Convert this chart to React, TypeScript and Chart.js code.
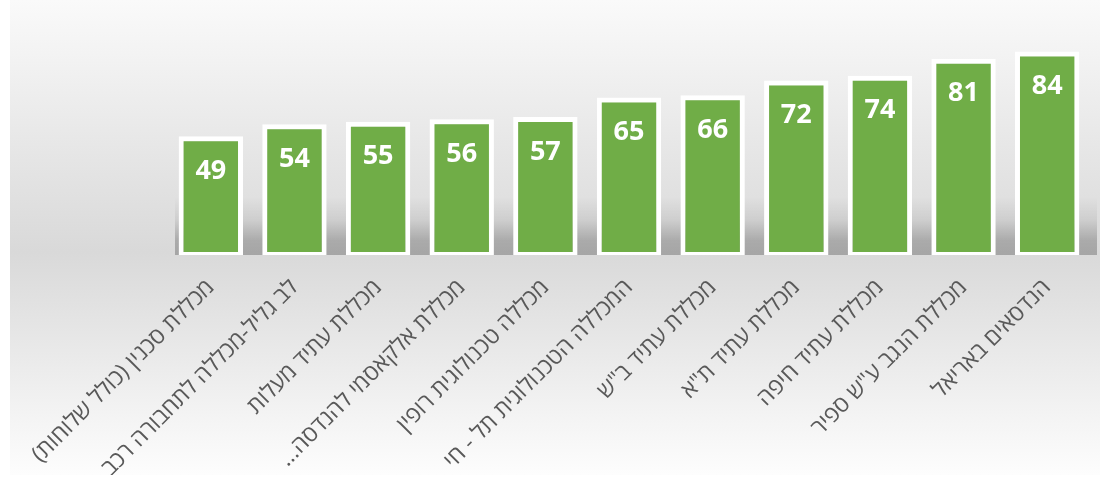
import React, { useEffect, useRef } from "react";
import { Chart, registerables } from "chart.js";

Chart.register(...registerables);

const categories: string[] = [
  "מכללת סכנין (כולל שלוחות)",
  "לב גליל-מכללה לתחבורה רכב",
  "מכללת עתיד מעלות",
  "מכללת אלקאסמי להנדסה…",
  "מכללה טכנולוגית רופין",
  "המכללה הטכנולוגית תל - חי",
  'מכללת עתיד ב"ש',
  'מכללת עתיד ת"א',
  "מכללת עתיד חיפה",
  'מכללת הנגב ע"ש ספיר',
  "הנדסאים באריאל",
];

const values: number[] = [49, 54, 55, 56, 57, 65, 66, 72, 74, 81, 84];

const FONT = "'Open Sans', 'Liberation Sans', 'DejaVu Sans', sans-serif";

const backgroundPlugin = {
  id: "bgPlugin",
  beforeDraw(chart: any) {
    const { ctx, width, height } = chart;
    ctx.save();
    const g = ctx.createLinearGradient(0, 0, 0, height);
    g.addColorStop(0, "#fafafa");
    g.addColorStop(0.53, "#d9d9d9");
    g.addColorStop(1, "#fdfdfd");
    ctx.fillStyle = g;
    ctx.fillRect(0, 0, width, height);
    ctx.restore();
  },
  beforeDatasetsDraw(chart: any) {
    const { ctx, chartArea } = chart;
    const bottom = chartArea.bottom;
    const top = bottom - 58;
    const left = chartArea.left + 6;
    const right = chartArea.right + 8;
    ctx.save();
    const g = ctx.createLinearGradient(0, top, 0, bottom);
    g.addColorStop(0, "rgba(0,0,0,0)");
    g.addColorStop(0.4, "rgba(0,0,0,0.07)");
    g.addColorStop(0.75, "rgba(0,0,0,0.22)");
    g.addColorStop(1, "rgba(0,0,0,0.24)");
    ctx.fillStyle = g;
    ctx.fillRect(left, top, right - left, bottom - top);
    ctx.restore();
  },
};

const valueLabelPlugin = {
  id: "valueLabels",
  afterDatasetsDraw(chart: any) {
    const { ctx } = chart;
    const meta = chart.getDatasetMeta(0);
    ctx.save();
    ctx.fillStyle = "#ffffff";
    ctx.font = `bold 27px ${FONT}`;
    ctx.textAlign = "center";
    ctx.textBaseline = "middle";
    meta.data.forEach((bar: any, i: number) => {
      ctx.fillText(String(values[i]), bar.x, bar.y + 35);
    });
    ctx.restore();
  },
};

export default function App() {
  const ref = useRef<HTMLCanvasElement | null>(null);

  useEffect(() => {
    if (!ref.current) return;
    const chart = new Chart(ref.current, {
      type: "bar",
      data: {
        labels: categories,
        datasets: [
          {
            data: values,
            backgroundColor: "#70AD47",
            borderColor: "#ffffff",
            borderWidth: { top: 5, left: 5, right: 5, bottom: 3 },
            borderSkipped: false,
            barPercentage: 0.77,
            categoryPercentage: 1,
          },
        ],
      },
      options: {
        animation: false,
        responsive: true,
        maintainAspectRatio: false,
        layout: { padding: { left: 159, right: 11, top: 37, bottom: 0 } },
        plugins: {
          legend: { display: false },
          tooltip: { enabled: false },
        },
        scales: {
          x: {
            grid: { display: false, drawTicks: false },
            border: { display: false },
            ticks: {
              color: "#595959",
              font: { size: 23, family: FONT },
              maxRotation: 45,
              minRotation: 45,
              autoSkip: false,
              padding: 19,
            },
            afterFit: (scale: any) => {
              scale.height = 220;
              scale.paddingLeft = 0;
              scale.paddingRight = 0;
            },
          },
          y: {
            display: false,
            min: 0,
            max: 90,
          },
        },
      },
      plugins: [backgroundPlugin, valueLabelPlugin],
    });
    return () => chart.destroy();
  }, []);

  return (
    <div
      style={{
        position: "absolute",
        left: 10,
        top: 0,
        width: 1090,
        height: 475,
      }}
    >
      <canvas ref={ref} dir="rtl" />
    </div>
  );
}
